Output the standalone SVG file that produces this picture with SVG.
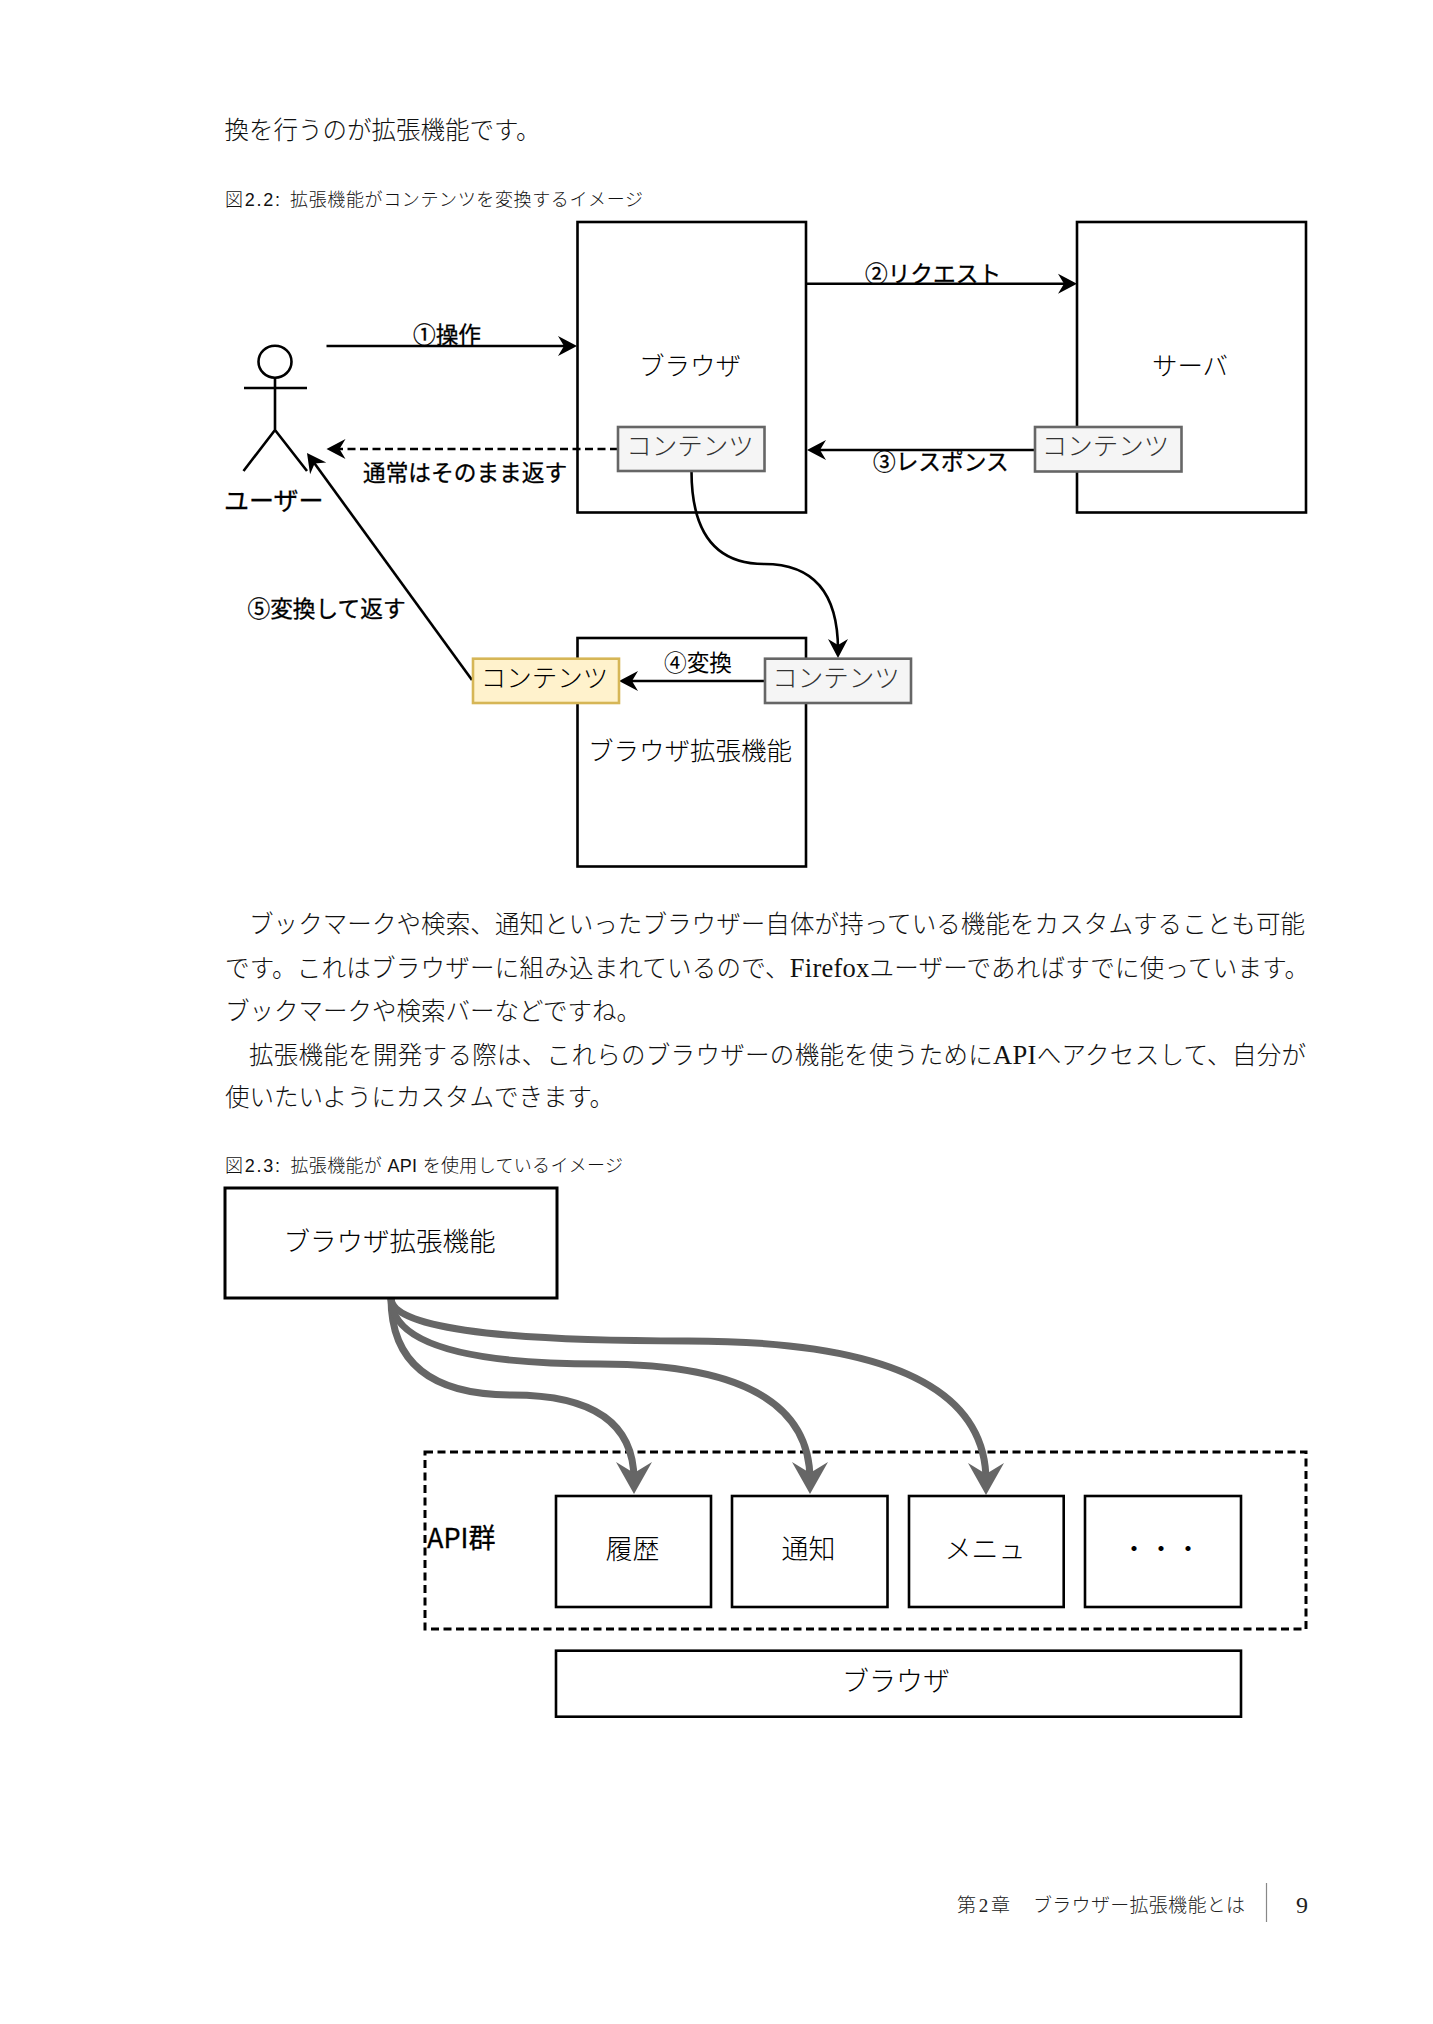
<svg xmlns="http://www.w3.org/2000/svg" width="1433" height="2024" viewBox="0 0 1433 2024">
<style>
text{font-family:"Noto Sans CJK JP","Noto Sans",sans-serif;fill:#000;white-space:pre}
.body{font-family:"Liberation Serif","Noto Sans CJK JP",serif;font-size:24.5px;font-weight:300;fill:#111}
.cap{font-family:"Liberation Sans","Noto Sans CJK JP",sans-serif;font-size:18px;font-weight:300;fill:#111}
.foot{font-family:"Liberation Serif","Noto Sans CJK JP",serif;font-size:19px;font-weight:300;fill:#222}
.lab{font-size:25.5px;font-weight:300;text-anchor:middle}
.edge{font-size:22.7px;font-weight:400;stroke:#000;stroke-width:.3}
.box{fill:#fff;stroke:#000;stroke-width:2.6}
.gray{fill:#f5f5f5;stroke:#666;stroke-width:2.6}
.yel{fill:#fff2cc;stroke:#d6b656;stroke-width:2.6}
.c{fill:none;stroke:#000;stroke-width:2.6}
.g{fill:none;stroke:#666;stroke-width:7}
.dash{fill:none;stroke:#000;stroke-width:3;stroke-dasharray:8 4.5}
</style>
<defs>
<marker id="ab" markerUnits="userSpaceOnUse" markerWidth="26" markerHeight="26" viewBox="0 0 26 26" refX="12" refY="13" orient="auto"><path d="M1 3L20 13L1 23L7 13Z" fill="#000"/></marker>
<marker id="ag" markerUnits="userSpaceOnUse" markerWidth="44" markerHeight="44" viewBox="0 0 44 44" refX="18" refY="22" orient="auto"><path d="M0 4L32 22L0 40L11 22Z" fill="#666"/></marker>
</defs>

<g id="page-text">
<text class="body" x="224.500" y="139">換を行うのが拡張機能です。</text>
<text class="cap" x="225" y="205.500" textLength="55" lengthAdjust="spacing">図2.2:</text>
<text class="cap" x="290" y="205.500" textLength="353" lengthAdjust="spacing">拡張機能がコンテンツを変換するイメージ</text>
<text class="body" x="249" y="932.500" textLength="1056" lengthAdjust="spacing">ブックマークや検索、通知といったブラウザー自体が持っている機能をカスタムすることも可能</text>
<text class="body" x="225" y="976.500" textLength="1084" lengthAdjust="spacing">です。これはブラウザーに組み込まれているので、<tspan style="font-size:26.500px">Firefox</tspan>ユーザーであればすでに使っています。</text>
<text class="body" x="225" y="1019.500">ブックマークや検索バーなどですね。</text>
<text class="body" x="249" y="1063.500" textLength="1057" lengthAdjust="spacing">拡張機能を開発する際は、これらのブラウザーの機能を使うために<tspan style="font-size:26.500px">API</tspan>へアクセスして、自分が</text>
<text class="body" x="225" y="1105.500">使いたいようにカスタムできます。</text>
<text class="cap" x="225" y="1171.500" textLength="55" lengthAdjust="spacing">図2.3:</text>
<text class="cap" x="290.500" y="1171.500" textLength="332.500" lengthAdjust="spacing">拡張機能が API を使用しているイメージ</text>
<text class="foot" x="957" y="1912" textLength="53" lengthAdjust="spacing">第2章</text>
<text class="foot" x="1033" y="1912" textLength="212" lengthAdjust="spacing">ブラウザー拡張機能とは</text>
<line x1="1266.500" y1="1883" x2="1266.500" y2="1922" stroke="#888" stroke-width="1.200"/>
<text class="foot" x="1296" y="1913" style="font-size:24px">9</text>
</g>

<g id="browser"><rect class="box" x="577.500" y="222" width="228.500" height="290.500"/><text class="lab" x="690" y="374.500">ブラウザ</text></g>
<g id="server"><rect class="box" x="1077" y="222" width="229" height="290.500"/><text class="lab" x="1190" y="374.500">サーバ</text></g>
<g id="extension"><rect class="box" x="577.500" y="638" width="228.500" height="228.500"/><text class="lab" x="690" y="760">ブラウザ拡張機能</text></g>
<g id="api-group"><rect class="dash" x="425" y="1452" width="881" height="177"/><text x="427" y="1548" style="font-size:27px;font-weight:400;stroke:#000;stroke-width:.3">API群</text></g>

<g id="connectors">
<path class="c" d="M326.500 346H569" marker-end="url(#ab)"/>
<path class="c" d="M807 283.700H1069" marker-end="url(#ab)"/>
<path class="c" d="M1035 450H815" marker-end="url(#ab)"/>
<path class="c" d="M618 449H334.500" stroke-dasharray="8 4.500" marker-end="url(#ab)"/>
<path class="c" d="M691.500 471Q691.500 564 764 564Q838 564 838 650" marker-end="url(#ab)"/>
<path class="c" d="M765 681H627" marker-end="url(#ab)"/>
<path class="c" d="M472 680L311.700 459.500" marker-end="url(#ab)"/>
<path class="g" d="M391 1298Q391 1395 512 1395Q634 1395 634 1480" marker-end="url(#ag)"/>
<path class="g" d="M391 1298Q391 1364 600 1364Q810 1364 810 1480" marker-end="url(#ag)"/>
<path class="g" d="M391 1298Q391 1341 688 1341Q986 1341 986 1481" marker-end="url(#ag)"/>
</g>

<g id="edge-labels">
<text class="edge" x="413" y="343">①操作</text>
<text class="edge" x="865" y="282">②リクエスト</text>
<text class="edge" x="873" y="470">③レスポンス</text>
<text class="edge" x="664" y="670.500" style="stroke:none">④変換</text>
<text class="edge" x="247.500" y="616.500">⑤変換して返す</text>
<text class="edge" x="363" y="480.500">通常はそのまま返す</text>
</g>

<g id="user">
<ellipse cx="275" cy="361.700" rx="16.500" ry="16" fill="#fff" stroke="#000" stroke-width="2.600"/>
<path class="c" d="M275 378V430M244 388H307M275 430L243.500 471M275 430L307 471"/>
<text class="edge" x="224" y="510" style="font-size:25px">ユーザー</text>
</g>

<g id="content-browser"><rect class="gray" x="618" y="427" width="146.500" height="44"/><text class="lab" x="690" y="455" style="fill:#333">コンテンツ</text></g>
<g id="content-server"><rect class="gray" x="1035" y="427" width="146.500" height="44.500"/><text class="lab" x="1105.500" y="455" style="fill:#333">コンテンツ</text></g>
<g id="content-changed"><rect class="yel" x="473" y="658.700" width="146" height="44.300"/><text class="lab" x="544.500" y="687">コンテンツ</text></g>
<g id="content-input"><rect class="gray" x="765" y="658.700" width="146" height="44.300"/><text class="lab" x="836" y="687" style="fill:#333">コンテンツ</text></g>

<g id="ext2"><rect class="box" x="225" y="1188" width="332" height="110" style="stroke-width:3"/><text class="lab" x="389.500" y="1250.500" style="font-size:26.500px">ブラウザ拡張機能</text></g>
<g id="history"><rect class="box" x="556" y="1496" width="155" height="111"/><text class="lab" x="632.500" y="1558.500" style="font-size:27px">履歴</text></g>
<g id="notice"><rect class="box" x="732" y="1496" width="155.500" height="111"/><text class="lab" x="808.500" y="1558.500" style="font-size:27px">通知</text></g>
<g id="menu"><rect class="box" x="909" y="1496" width="154.700" height="111"/><text class="lab" x="985" y="1558.500" style="font-size:27px">メニュ</text></g>
<g id="more"><rect class="box" x="1085" y="1496" width="156" height="111"/><text class="lab" x="1161" y="1558.500" style="font-size:27px">・・・</text></g>
<g id="browser2"><rect class="box" x="556" y="1650.700" width="685" height="66"/><text class="lab" x="896" y="1691" style="font-size:27px">ブラウザ</text></g>
</svg>
